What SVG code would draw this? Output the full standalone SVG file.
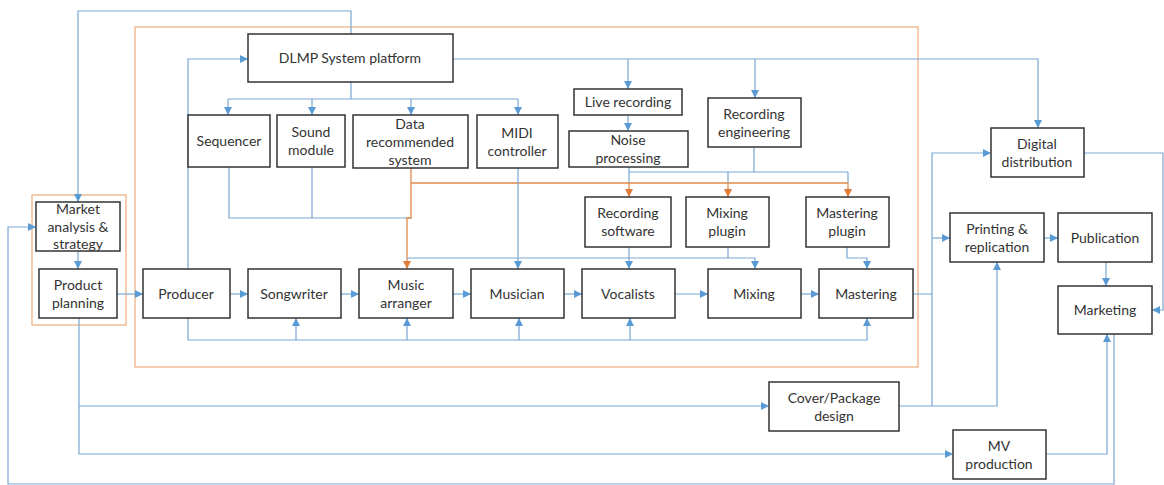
<svg xmlns="http://www.w3.org/2000/svg" width="1164" height="485" viewBox="0 0 1164 485">
<style>
.box{fill:#fff;stroke:#333;stroke-width:1.5}
.grp{fill:none;stroke:#f1bd97;stroke-width:1.5}
.c{fill:none;stroke:#7ba7d4;stroke-width:1.2}
.o{fill:none;stroke:#e08a4c;stroke-width:1.3}
text{font-family:Lato,"Open Sans","Liberation Sans",sans-serif;font-size:14px;fill:#333;text-anchor:middle}
</style>
<defs>
<marker id="ab" markerUnits="userSpaceOnUse" markerWidth="9" markerHeight="8" refX="8" refY="4" orient="auto"><path d="M0,0 L8,4 L0,8 z" fill="#5b9bd5"/></marker>
<marker id="ao" markerUnits="userSpaceOnUse" markerWidth="9" markerHeight="8" refX="8" refY="4" orient="auto"><path d="M0,0 L8,4 L0,8 z" fill="#e07b39"/></marker>
</defs>
<rect width="1164" height="485" fill="#fff"/>
<rect class="grp" x="135" y="27" width="783" height="340"/>
<rect class="grp" x="32" y="195" width="94" height="130"/>
<g id="connectors">
<path class="c" d="M351,34 V11 H78 V202" marker-end="url(#ab)"/>
<path class="c" d="M188,269 V59 H248" marker-end="url(#ab)"/>
<path class="c" d="M351,82 V99 M228,99 H518"/>
<path class="c" d="M228,99 V115" marker-end="url(#ab)"/>
<path class="c" d="M312,99 V115" marker-end="url(#ab)"/>
<path class="c" d="M411,99 V115" marker-end="url(#ab)"/>
<path class="c" d="M518,99 V115" marker-end="url(#ab)"/>
<path class="c" d="M453,59 H1038 V128" marker-end="url(#ab)"/>
<path class="c" d="M628,59 V89" marker-end="url(#ab)"/>
<path class="c" d="M755,59 V98" marker-end="url(#ab)"/>
<path class="c" d="M628,115 V131" marker-end="url(#ab)"/>
<path class="c" d="M229,167 V218 H411 M312,167 V218"/>
<path class="c" d="M629,167 V183 M754,147 V172 M629,172 H848 M728,172 V183 M848,172 V183"/>
<path class="o" d="M411,168 V218 H407 V269" marker-end="url(#ao)"/>
<path class="o" d="M411,183 H848"/>
<path class="o" d="M629,183 V197" marker-end="url(#ao)"/>
<path class="o" d="M728,183 V197" marker-end="url(#ao)"/>
<path class="o" d="M848,183 V197" marker-end="url(#ao)"/>
<path class="c" d="M518,168 V269" marker-end="url(#ab)"/>
<path class="c" d="M407,258 H755 V269" marker-end="url(#ab)"/>
<path class="c" d="M728,247 V258"/>
<path class="c" d="M629,247 V269" marker-end="url(#ab)"/>
<path class="c" d="M847,247 V258 H867 V269" marker-end="url(#ab)"/>
<path class="c" d="M117,294 H143" marker-end="url(#ab)"/>
<path class="c" d="M230,294 H248" marker-end="url(#ab)"/>
<path class="c" d="M341,294 H359" marker-end="url(#ab)"/>
<path class="c" d="M453,294 H471" marker-end="url(#ab)"/>
<path class="c" d="M564,294 H582" marker-end="url(#ab)"/>
<path class="c" d="M675,294 H708" marker-end="url(#ab)"/>
<path class="c" d="M801,294 H819" marker-end="url(#ab)"/>
<path class="c" d="M78,251 V269" marker-end="url(#ab)"/>
<path class="c" d="M188,318 V340 H867 V318" marker-end="url(#ab)"/>
<path class="c" d="M296,340 V318" marker-end="url(#ab)"/>
<path class="c" d="M407,340 V318" marker-end="url(#ab)"/>
<path class="c" d="M519,340 V318" marker-end="url(#ab)"/>
<path class="c" d="M630,340 V318" marker-end="url(#ab)"/>
<path class="c" d="M913,294 H932 M932,406 V153 H991" marker-end="url(#ab)"/>
<path class="c" d="M932,238 H950" marker-end="url(#ab)"/>
<path class="c" d="M899,406 H997 V262" marker-end="url(#ab)"/>
<path class="c" d="M79,318 V454 H953" marker-end="url(#ab)"/>
<path class="c" d="M79,406 H769" marker-end="url(#ab)"/>
<path class="c" d="M1046,454 H1107 V334" marker-end="url(#ab)"/>
<path class="c" d="M1114,334 V484 H8 V227 H36" marker-end="url(#ab)"/>
<path class="c" d="M1044,238 H1058" marker-end="url(#ab)"/>
<path class="c" d="M1106,262 V286" marker-end="url(#ab)"/>
<path class="c" d="M1084,153 H1163 V310 H1152" marker-end="url(#ab)"/>
</g>
<g id="dlmp"><rect class="box" x="248" y="34" width="205" height="48"/><text x="350" y="63">DLMP System platform</text></g>
<g id="sequencer"><rect class="box" x="188" y="115" width="82" height="52"/><text x="229" y="146">Sequencer</text></g>
<g id="sound-module"><rect class="box" x="277" y="115" width="68" height="52"/><text x="311" y="137">Sound</text><text x="311" y="155">module</text></g>
<g id="data-rec"><rect class="box" x="353" y="115" width="115" height="53"/><text x="410" y="129">Data</text><text x="410" y="147">recommended</text><text x="410" y="165">system</text></g>
<g id="midi"><rect class="box" x="477" y="115" width="81" height="53"/><text x="517" y="138">MIDI</text><text x="517" y="156">controller</text></g>
<g id="live-recording"><rect class="box" x="574" y="89" width="108" height="26"/><text x="628" y="107">Live recording</text></g>
<g id="noise"><rect class="box" x="569" y="131" width="119" height="36"/><text x="628" y="145">Noise</text><text x="628" y="163">processing</text></g>
<g id="rec-eng"><rect class="box" x="708" y="98" width="93" height="49"/><text x="754" y="119">Recording</text><text x="754" y="137">engineering</text></g>
<g id="digital"><rect class="box" x="991" y="128" width="93" height="49"/><text x="1037" y="149">Digital</text><text x="1037" y="167">distribution</text></g>
<g id="rec-sw"><rect class="box" x="585" y="197" width="86" height="50"/><text x="628" y="218">Recording</text><text x="628" y="236">software</text></g>
<g id="mix-plugin"><rect class="box" x="686" y="197" width="83" height="50"/><text x="727" y="218">Mixing</text><text x="727" y="236">plugin</text></g>
<g id="master-plugin"><rect class="box" x="806" y="197" width="83" height="50"/><text x="847" y="218">Mastering</text><text x="847" y="236">plugin</text></g>
<g id="market"><rect class="box" x="36" y="202" width="84" height="49"/><text x="78" y="214">Market</text><text x="78" y="232">analysis &amp;</text><text x="78" y="249">strategy</text></g>
<g id="product"><rect class="box" x="39" y="269" width="78" height="49"/><text x="78" y="290">Product</text><text x="78" y="308">planning</text></g>
<g id="producer"><rect class="box" x="143" y="269" width="87" height="49"/><text x="186" y="299">Producer</text></g>
<g id="songwriter"><rect class="box" x="248" y="269" width="93" height="49"/><text x="294" y="299">Songwriter</text></g>
<g id="arranger"><rect class="box" x="359" y="269" width="94" height="49"/><text x="406" y="290">Music</text><text x="406" y="308">arranger</text></g>
<g id="musician"><rect class="box" x="471" y="269" width="93" height="49"/><text x="517" y="299">Musician</text></g>
<g id="vocalists"><rect class="box" x="582" y="269" width="93" height="49"/><text x="628" y="299">Vocalists</text></g>
<g id="mixing"><rect class="box" x="708" y="269" width="93" height="49"/><text x="754" y="299">Mixing</text></g>
<g id="mastering"><rect class="box" x="819" y="269" width="94" height="49"/><text x="866" y="299">Mastering</text></g>
<g id="printing"><rect class="box" x="950" y="213" width="94" height="49"/><text x="997" y="234">Printing &amp;</text><text x="997" y="252">replication</text></g>
<g id="publication"><rect class="box" x="1058" y="213" width="94" height="49"/><text x="1105" y="243">Publication</text></g>
<g id="marketing"><rect class="box" x="1058" y="286" width="94" height="48"/><text x="1105" y="315">Marketing</text></g>
<g id="cover"><rect class="box" x="769" y="382" width="130" height="49"/><text x="834" y="403">Cover/Package</text><text x="834" y="421">design</text></g>
<g id="mv"><rect class="box" x="953" y="430" width="93" height="49"/><text x="999" y="451">MV</text><text x="999" y="469">production</text></g>
</svg>
